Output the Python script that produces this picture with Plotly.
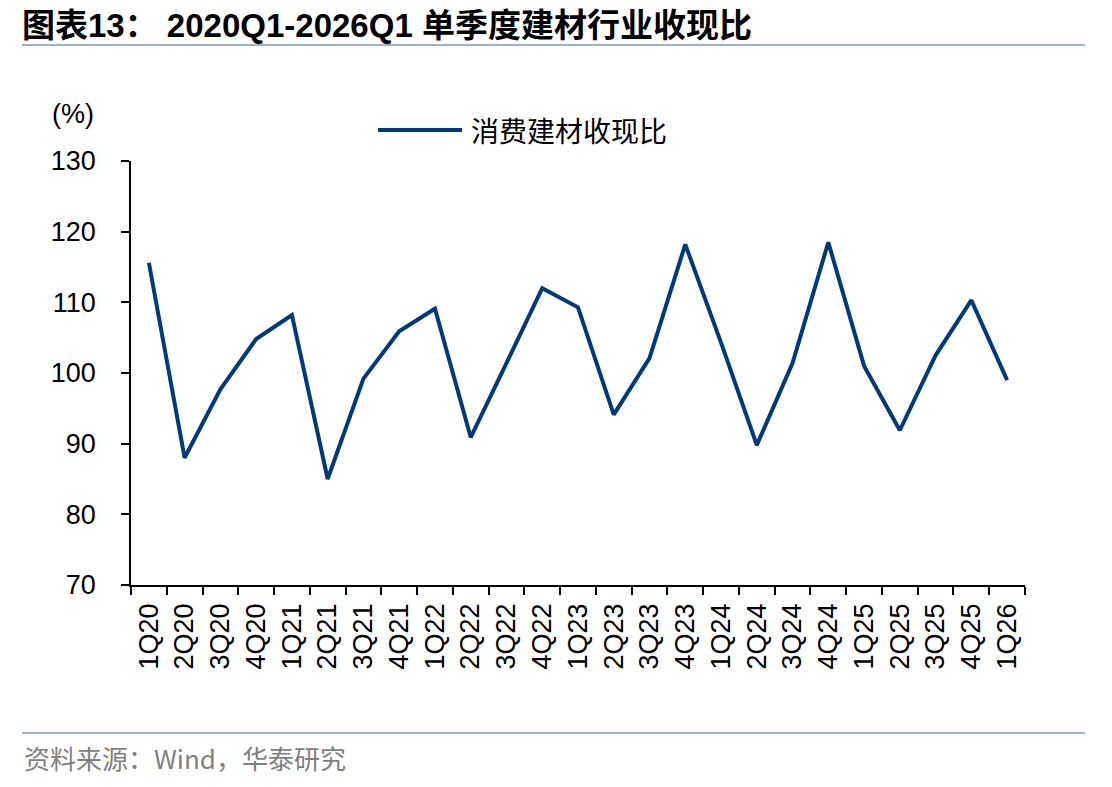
import plotly.graph_objects as go

categories = ["1Q20","2Q20","3Q20","4Q20","1Q21","2Q21","3Q21","4Q21","1Q22","2Q22","3Q22","4Q22",
              "1Q23","2Q23","3Q23","4Q23","1Q24","2Q24","3Q24","4Q24","1Q25","2Q25","3Q25","4Q25","1Q26"]
values = [115.6, 88.0, 97.7, 104.8, 108.2, 85.0, 99.2, 105.9, 109.1, 90.9, 101.4, 112.0,
          109.3, 94.1, 102.1, 118.2, 104.3, 89.8, 101.4, 118.5, 101.0, 91.9, 102.5, 110.3, 99.0]
series_name = "消费建材收现比"
y_ticks = [70, 80, 90, 100, 110, 120, 130]

W, H = 1112, 787
L, R, T, B = 131, 1025, 161, 585
def px(x): return (x - L) / (R - L)
def py(y): return (B - y) / (B - T)

fig = go.Figure()
fig.add_trace(go.Scatter(x=categories, y=values, mode="lines", name=series_name,
                         line=dict(color="#003A7A", width=4), showlegend=False))

tickfont = dict(size=27, family="Arial, Liberation Sans", color="black")
fig.update_layout(
    width=W, height=H,
    margin=dict(l=L, r=W - R, t=T, b=H - B),
    plot_bgcolor="white", paper_bgcolor="white",
    font=dict(family="Arial, Liberation Sans, sans-serif", color="black"),
    xaxis=dict(type="category", tickangle=-90, tickson="boundaries", ticks="outside",
               ticklen=8, tickwidth=1.5, tickcolor="black", showline=True, linecolor="black",
               linewidth=1.5, showgrid=False, tickfont=tickfont, ticklabelstandoff=6,
               range=[-0.5, len(categories) - 0.5]),
    yaxis=dict(range=[70, 130], tickvals=y_ticks, ticks="outside", ticklen=8, tickwidth=1.5,
               tickcolor="black", showline=True, linecolor="black", linewidth=1.5,
               showgrid=False, zeroline=False, tickfont=tickfont, ticklabelstandoff=20),
)

shapes = [
    dict(type="line", xref="paper", yref="paper", x0=px(22), x1=px(1085), y0=py(45), y1=py(45),
         line=dict(color="#9BB1CC", width=2)),
    dict(type="line", xref="paper", yref="paper", x0=px(22), x1=px(1085), y0=py(733), y1=py(733),
         line=dict(color="#9BB1CC", width=2)),
    dict(type="line", xref="paper", yref="paper", x0=px(378), x1=px(462), y0=py(130), y1=py(130),
         line=dict(color="#003A7A", width=4)),
]
fig.update_layout(shapes=shapes)

annotations = [
    dict(text="<b>图表13： 2020Q1-2026Q1 单季度建材行业收现比</b>", xref="paper", yref="paper",
         x=px(20), y=py(25), xanchor="left", yanchor="middle", showarrow=False,
         font=dict(size=33, family="Arial, Liberation Sans, Noto Sans CJK SC", color="black")),
    dict(text="(%)", xref="paper", yref="paper", x=px(50), y=py(114), xanchor="left",
         yanchor="middle", showarrow=False, font=dict(size=27, family="Arial, Liberation Sans")),
    dict(text=series_name, xref="paper", yref="paper", x=px(469), y=py(130), xanchor="left",
         yanchor="middle", showarrow=False, font=dict(size=28, family="Noto Sans CJK SC")),
    dict(text="资料来源：Wind，华泰研究", xref="paper", yref="paper", x=px(22), y=py(757),
         xanchor="left", yanchor="middle", showarrow=False,
         font=dict(size=26, family="Noto Sans CJK SC", color="#7F7F7F")),
]
fig.update_layout(annotations=annotations)

fig.write_html("out.html")
